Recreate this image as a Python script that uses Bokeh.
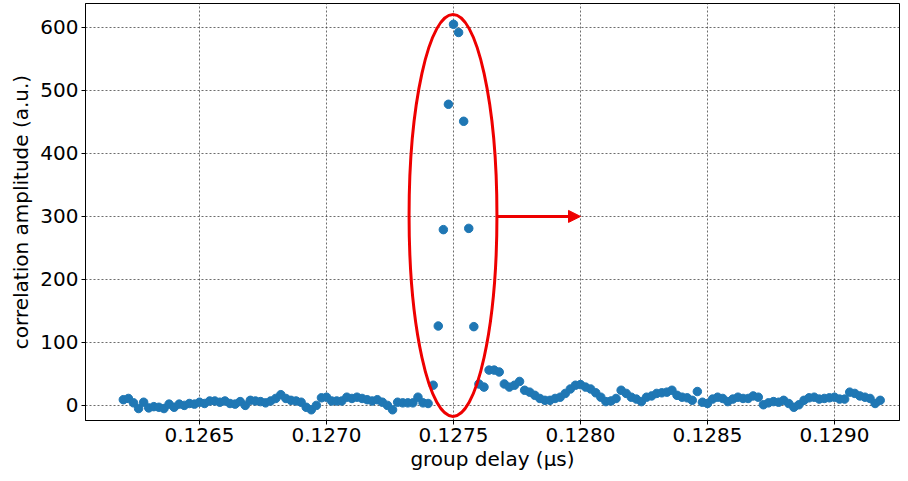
from bokeh.plotting import figure
from bokeh.models import FixedTicker, Arrow, NormalHead, ColumnDataSource, Range1d
from bokeh.embed import file_html
from bokeh.resources import INLINE

# group delay (µs)
delay = [
    0.12620, 0.12622, 0.12624, 0.12626, 0.12628, 0.12630, 0.12632, 0.12634, 0.12636, 0.12638,
    0.12640, 0.12642, 0.12644, 0.12646, 0.12648, 0.12650, 0.12652, 0.12654, 0.12656, 0.12658,
    0.12660, 0.12662, 0.12664, 0.12666, 0.12668, 0.12670, 0.12672, 0.12674, 0.12676, 0.12678,
    0.12680, 0.12682, 0.12684, 0.12686, 0.12688, 0.12690, 0.12692, 0.12694, 0.12696, 0.12698,
    0.12700, 0.12702, 0.12704, 0.12706, 0.12708, 0.12710, 0.12712, 0.12714, 0.12716, 0.12718,
    0.12720, 0.12722, 0.12724, 0.12726, 0.12728, 0.12730, 0.12732, 0.12734, 0.12736, 0.12738,
    0.12740, 0.12742, 0.12744, 0.12746, 0.12748, 0.12750, 0.12752, 0.12754, 0.12756, 0.12758,
    0.12760, 0.12762, 0.12764, 0.12766, 0.12768, 0.12770, 0.12772, 0.12774, 0.12776, 0.12778,
    0.12780, 0.12782, 0.12784, 0.12786, 0.12788, 0.12790, 0.12792, 0.12794, 0.12796, 0.12798,
    0.12800, 0.12802, 0.12804, 0.12806, 0.12808, 0.12810, 0.12812, 0.12814, 0.12816, 0.12818,
    0.12820, 0.12822, 0.12824, 0.12826, 0.12828, 0.12830, 0.12832, 0.12834, 0.12836, 0.12838,
    0.12840, 0.12842, 0.12844, 0.12846, 0.12848, 0.12850, 0.12852, 0.12854, 0.12856, 0.12858,
    0.12860, 0.12862, 0.12864, 0.12866, 0.12868, 0.12870, 0.12872, 0.12874, 0.12876, 0.12878,
    0.12880, 0.12882, 0.12884, 0.12886, 0.12888, 0.12890, 0.12892, 0.12894, 0.12896, 0.12898,
    0.12900, 0.12902, 0.12904, 0.12906, 0.12908, 0.12910, 0.12912, 0.12914, 0.12916, 0.12918,
]

# correlation amplitude (a.u.)
amplitude = [
    9, 11, 4, -5, 5, -4, -2, -3, -5, 2,
    -3, 2, 0, 3, 2, 5, 3, 7, 7, 5,
    7, 3, 2, 6, 0, 8, 7, 6, 4, 7,
    11, 17, 11, 8, 7, 5, -3, -7, 0, 12,
    13, 7, 7, 7, 13, 11, 13, 11, 9, 7,
    9, 5, 0, -7, 5, 4, 4, 4, 13, 4,
    3, 32, 126, 279, 478, 605, 592, 451, 281, 125,
    34, 29, 56, 56, 53, 34, 29, 32, 38, 24,
    21, 16, 11, 8, 8, 11, 13, 19, 26, 32,
    33, 29, 26, 20, 13, 6, 7, 11, 24, 19,
    13, 10, 6, 13, 15, 19, 20, 21, 24, 16,
    13, 12, 8, 22, 5, 3, 10, 13, 11, 6,
    10, 13, 11, 11, 15, 13, 1, 4, 6, 5,
    8, 3, -3, 1, 8, 12, 13, 10, 11, 12,
    13, 10, 10, 21, 19, 15, 13, 11, 3, 8,
]

x_ticks = [0.1265, 0.1270, 0.1275, 0.1280, 0.1285, 0.1290]
x_tick_labels = ["0.1265", "0.1270", "0.1275", "0.1280", "0.1285", "0.1290"]
y_ticks = [0, 100, 200, 300, 400, 500, 600]

# highlight annotation (ellipse around the peak, arrow to the right)
ellipse_center = [0.127498, 301.5]
ellipse_size = [0.000346, 638]
arrow_start = [0.127675, 300]
arrow_end = [0.12800, 300]

FONT = "DejaVu Sans"

p = figure(width=900, height=473, output_backend="svg", toolbar_location=None,
           x_range=Range1d(0.126051, 0.129256), y_range=Range1d(-24, 638),
           min_border_left=85, min_border_right=1, min_border_top=3, min_border_bottom=45)

src = ColumnDataSource(dict(x=delay, y=amplitude))
p.scatter("x", "y", source=src, size=8.5, color="#1f77b4", line_color="#1f77b4")

p.ellipse(x=[ellipse_center[0]], y=[ellipse_center[1]], width=[ellipse_size[0]],
          height=[ellipse_size[1]], fill_alpha=0, line_color="#ee0000", line_width=3)

p.add_layout(Arrow(x_start=arrow_start[0], y_start=arrow_start[1], x_end=arrow_end[0], y_end=arrow_end[1],
                   line_color="#ee0000", line_width=3,
                   end=NormalHead(size=12, fill_color="#ee0000", line_color="#ee0000", line_width=1)))

p.xaxis.ticker = FixedTicker(ticks=x_ticks)
p.xaxis.major_label_overrides = {t: l for t, l in zip(x_ticks, x_tick_labels)}
p.yaxis.ticker = FixedTicker(ticks=y_ticks)

p.xaxis.axis_label = "group delay (µs)"
p.yaxis.axis_label = "correlation amplitude (a.u.)"

for ax in (p.xaxis, p.yaxis):
    ax.axis_label_text_font = FONT
    ax.axis_label_text_font_size = "20px"
    ax.axis_label_text_font_style = "normal"
    ax.axis_label_text_color = "black"
    ax.major_label_text_font = FONT
    ax.major_label_text_font_size = "20px"
    ax.major_label_text_color = "black"
    ax.axis_line_color = "black"
    ax.major_tick_line_color = "black"
    ax.major_tick_out = 4
    ax.major_tick_in = 0
    ax.minor_tick_line_color = None
    ax.major_label_standoff = 3

p.xaxis.axis_label_standoff = 2
p.yaxis.axis_label_standoff = 4

p.outline_line_color = "black"
p.outline_line_width = 1

for g in (p.xgrid, p.ygrid):
    g.grid_line_color = "#333333"
    g.grid_line_dash = "2 2"
    g.grid_line_width = 0.8
    g.grid_line_alpha = 0.9

p.background_fill_color = "white"
p.border_fill_color = "white"

open("out.html", "w").write(file_html(p, INLINE))
